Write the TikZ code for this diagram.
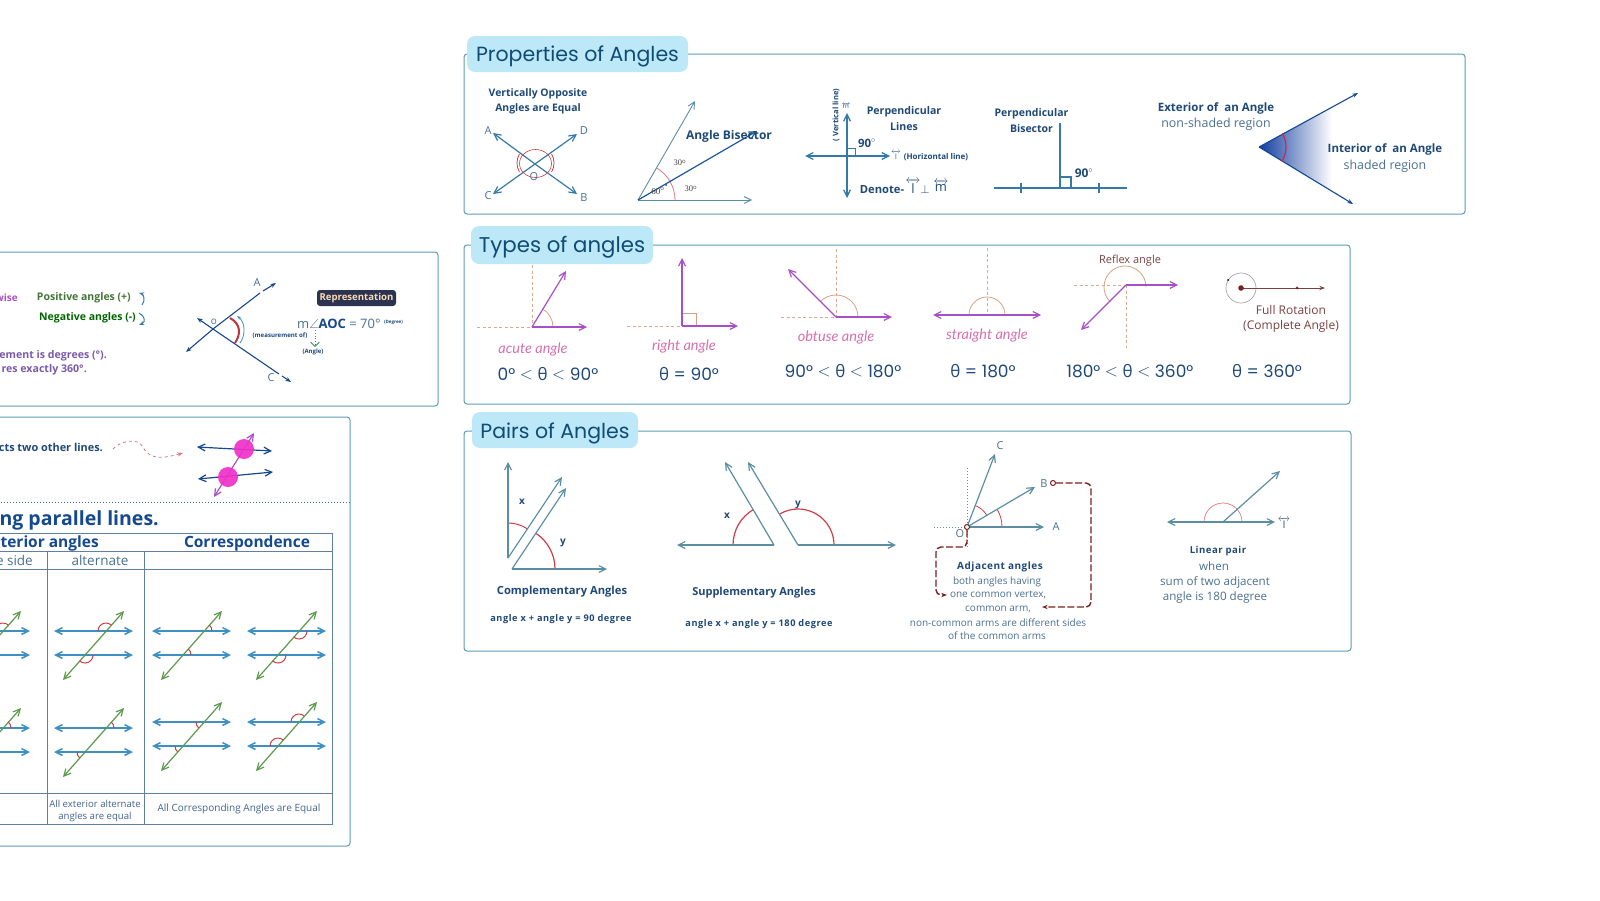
\documentclass[tikz,border=0pt]{standalone}
\usepackage{amsmath}
\usepackage{amssymb}
\usepackage{fontspec}
\usetikzlibrary{arrows.meta, positioning, calc}
\setmainfont{Open Sans}
\newfontfamily\titlefont{Poppins}
\newfontfamily\handfont{Lato}
\newfontfamily\numserif{Liberation Serif}
\newcommand{\fs}[1]{\fontsize{#1}{#1}\selectfont}
\newcommand{\thet}{{\fontspec{Open Sans}θ}}
\newcommand{\ltsign}{\raisebox{.5pt}{$<$}}
\definecolor{cPill}{RGB}{189,232,247}
\definecolor{cFrame}{RGB}{92,156,184}
\definecolor{cTitle}{RGB}{15,76,117}
\definecolor{cNavy}{RGB}{30,72,120}
\definecolor{cText}{RGB}{74,111,143}
\definecolor{cLine}{RGB}{61,143,196}
\definecolor{cDeep}{RGB}{20,72,143}
\definecolor{cPur}{RGB}{166,79,200}
\definecolor{cDash}{RGB}{219,167,143}
\definecolor{cArc}{RGB}{216,160,128}
\definecolor{cPink}{RGB}{213,111,174}
\definecolor{cTeal}{RGB}{92,142,163}
\definecolor{cRed}{RGB}{210,60,70}
\definecolor{cMar}{RGB}{122,30,30}
\definecolor{cBrown}{RGB}{122,64,64}
\definecolor{cGreen}{RGB}{91,154,75}
\definecolor{cHot}{RGB}{240,48,200}
\definecolor{cViol}{RGB}{122,90,168}
\definecolor{cDark}{RGB}{43,51,80}
\tikzset{
  panel/.style={draw=cFrame, line width=1pt, rounded corners=3pt},
  pill/.style={fill=cPill, rounded corners=8pt, text=cTitle, inner sep=0pt, font=\titlefont\fs{20.5}},
  lab/.style={inner sep=0pt, yshift=-1pt, align=center, text=cNavy, font=\bfseries\fs{10.5}},
  sublab/.style={inner sep=0pt, yshift=-1pt, align=center, text=cText, font=\fs{11.6}},
  adjlab/.style={sublab, font=\fs{10}},
  eqn/.style={inner sep=0pt, text=cNavy, font=\titlefont\fs{17}},
  hand/.style={inner sep=0pt, text=cPink, font=\handfont\itshape\fs{14.5}},
  letter/.style={inner sep=0pt, text=cNavy!80, font=\fs{11}},
  ar/.style={-{Straight Barb[length=2.4mm,width=2.4mm]}, line width=1.2pt},
  dar/.style={{Straight Barb[length=2.4mm,width=2.4mm]}-{Straight Barb[length=2.4mm,width=2.4mm]}, line width=1.2pt},
  ang/.style={draw=cRed, line width=.8pt},
  soft/.style={draw=cArc, line width=.8pt},
  dsh/.style={draw=cDash, line width=.9pt, dash pattern=on 3pt off 2.5pt},
  ptc/.style={circle, draw=cMar, fill=white, line width=1pt, minimum size=5pt, inner sep=0pt},
  mar/.style={draw=cMar, line width=1.4pt, dash pattern=on 7pt off 2.5pt, rounded corners=5pt},
  tbl/.style={draw=cNavy!70, line width=.8pt}
}
\begin{document}
\begin{tikzpicture}[x=1pt, y=-1pt]
  \path[use as bounding box, clip] (0,0) rectangle (1600,900);

  % frames
  \draw[panel] (-20,252) rectangle (438,406);
  \draw[panel] (-20,417) rectangle (350,846);
  \draw[panel] (464,54) rectangle (1465,214);
  \draw[panel] (464,245) rectangle (1350,404);
  \draw[panel] (464,431) rectangle (1351,651);
  \node[pill, minimum width=221pt, minimum height=36pt] (tprop) at (577.5,54) {\raisebox{-2.5pt}[\height][\depth]{Properties of Angles}};
  \node[pill, minimum width=182pt, minimum height=38pt, font=\titlefont\fs{21.3}] (ttype) at (562,245) {\raisebox{-2.5pt}[\height][\depth]{Types of angles}};
  \node[pill, minimum width=166pt, minimum height=36pt] (tpair) at (555,430) {\raisebox{-3.5pt}[\height][\depth]{Pairs of Angles}};

  % vertically opposite
  \node[lab, font=\bfseries\fs{10.4}] (vop) at (538,100.5) {Vertically Opposite\\[5pt]Angles are Equal};
  \draw[ar, cLine!85!black] (535,164) -- (493,133);
  \draw[ar, cLine!85!black] (535,164) -- (577,194);
  \draw[ar, cLine!85!black] (535,164) -- (493,194);
  \draw[ar, cLine!85!black] (535,164) -- (577,134);
  \draw[ang, line width=.6pt] (535.5,163.5) ellipse[x radius=16pt, y radius=14pt];
  \draw[ang] (535,163) ++(150:18pt) arc[start angle=150, end angle=210, radius=18pt];
  \draw[ang] (536,163) ++(-30:18pt) arc[start angle=-30, end angle=30, radius=18pt];
  \node[letter] (la) at (488,131) {A};
  \node[letter] (ld) at (584,131) {D};
  \node[letter] (lc) at (488,196) {C};
  \node[letter] (lb) at (584,198) {B};
  \node[letter] (lo) at (534,177) {O};

  % angle bisector
  \coordinate (bis) at (638,200);
  \draw[soft, draw=cRed!70] (bis) ++(37pt,0) arc[start angle=0, end angle=60, radius=37pt];
  \draw[ar, cTeal, line width=.9pt] (bis) -- (695,101);
  \draw[ar, cTeal, line width=.9pt] (bis) -- (752,200);
  \draw[ar, cDeep!80!cLine] (bis) -- (757,131);
  \fill[cNavy] (666,185) circle (1pt);
  \node[lab, font=\bfseries\fs{12}] (tbis) at (729,135) {Angle Bisector};
  \node[inner sep=0pt, text=black!75, font=\numserif\fs{8.5}] (a30a) at (680,163) {30$^{\mathrm{o}}$};
  \node[inner sep=0pt, text=black!75, font=\numserif\fs{8.5}] (a30b) at (691,189) {30$^{\mathrm{o}}$};
  \node[inner sep=0pt, text=black!75, font=\numserif\fs{9}] (a60) at (658,191) {60$^{\mathrm{o}}$};

  % perpendicular lines
  \draw[dar, cLine!85!black, line width=1.3pt] (805,156) -- (890,156);
  \draw[dar, cLine!85!black, line width=1.3pt] (847,113) -- (847,198);
  \draw[cLine!85!black] (847,148) -| (855,156);
  \node[inner sep=0pt, text=cNavy, font=\bfseries\fs{11.5}] (p90) at (867,143) {90$^{\circ}$};
  \node[inner sep=0pt, rotate=90, text=cNavy, font=\bfseries\fs{7.6}] (pv) at (836,115) {( Vertical line)};
  \node[inner sep=0pt, text=cNavy, font=\fs{6.5}] (pm) at (846,106) {$\overleftrightarrow{\mathrm{m}}$};
  \node[inner sep=0pt, text=cNavy, font=\fs{7}] (pl) at (896,155) {$\overleftrightarrow{\mathrm{l}}$};
  \node[inner sep=0pt, text=cNavy, font=\bfseries\fs{8}] (ph) at (936,157) {(Horizontal line)};
  \node[lab, font=\bfseries\fs{10.6}] (tperp) at (904,117.5) {Perpendicular\\[5pt]Lines};
  \node[lab, font=\bfseries\fs{11.2}] (den) at (882,189) {Denote-};
  \node[inner sep=0pt, text=cNavy, font=\fs{13}] (dl) at (913,186) {$\overleftrightarrow{\mathrm{l}}$};
  \node[inner sep=0pt, text=cNavy, font=\fs{13}] (dt) at (925,189) {$\perp$};
  \node[inner sep=0pt, text=cNavy, font=\fs{13}] (dm) at (941,186) {$\overleftrightarrow{\mathrm{m}}$};

  % perpendicular bisector
  \node[lab] (tpb) at (1031.5,119.5) {Perpendicular\\[5pt]Bisector};
  \draw[cLine!85!black, line width=1.1pt] (994,188) -- (1127,188);
  \draw[cLine!85!black, line width=1.1pt] (1060,123) -- (1060,188);
  \draw[cLine!85!black, line width=1.1pt] (1060,177) -| (1071,188);
  \draw[cLine!85!black, line width=1.1pt] (1021,183) -- (1021,193);
  \draw[cLine!85!black, line width=1.1pt] (1099,183) -- (1099,193);
  \node[inner sep=0pt, text=cNavy, font=\bfseries\fs{12}] (b90) at (1084,173) {90$^{\circ}$};

  % interior and exterior
  \coordinate (ext) at (1259,147);
  \shade[left color=cDeep!85!blue, middle color=cDeep!35!white, right color=white] (ext) -- (1332,107) -- (1332,191) -- cycle;
  \draw[-{Stealth[length=2mm]}, cDeep, line width=1.1pt] (ext) -- (1358,93);
  \draw[-{Stealth[length=2mm]}, cDeep, line width=1.1pt] (ext) -- (1353,204);
  \draw[draw=cRed!70!purple, line width=1.2pt] (ext) ++(-32:27pt) arc[start angle=-32, end angle=30, radius=27pt];
  \node[lab, font=\bfseries\fs{11.5}] (text1) at (1216,107) {Exterior of\ \ an Angle};
  \node[sublab, font=\fs{12.4}] (text2) at (1216,123.5) {non-shaded region};
  \node[lab, font=\bfseries\fs{11.5}] (tint1) at (1385,148.5) {Interior of\ \ an Angle};
  \node[sublab, font=\fs{12.4}] (tint2) at (1385,165.5) {shaded region};

  % types of angles
  \draw[dsh] (477,327) -- (532,327);
  \draw[dsh] (532,265) -- (532,327);
  \draw[soft] (553,327) arc[start angle=0, end angle=60, radius=21pt];
  \draw[ar, cPur] (532,327) -- (587,327);
  \draw[ar, cPur] (532,327) -- (566,271);
  \node[hand] (hac) at (533,349) {acute angle};
  \node[eqn] (eac) at (548,374) {0° \ltsign{} \thet{} \ltsign{} 90°};

  \draw[dsh] (627,326) -- (682,326);
  \draw[soft] (682,313) -| (696,326);
  \draw[ar, cPur] (682,326) -- (738,326);
  \draw[ar, cPur] (682,326) -- (682,258);
  \node[hand] (hri) at (684,346) {right angle};
  \node[eqn] (eri) at (689,374) {\thet{} = 90°};

  \draw[dsh] (781,317) -- (836,317);
  \draw[dsh] (836,249) -- (836,317);
  \draw[soft] (858,317) arc[start angle=0, end angle=135, radius=22pt];
  \draw[ar, cPur] (836,317) -- (892,317);
  \draw[ar, cPur] (836,317) -- (788,269);
  \node[hand] (hob) at (836,337) {obtuse angle};
  \node[eqn] (eob) at (843,371) {90° \ltsign{} \thet{} \ltsign{} 180°};

  \draw[dsh] (987,248) -- (987,315);
  \draw[soft] (1005,315) arc[start angle=0, end angle=180, radius=18pt];
  \draw[dar, cPur] (933,315) -- (1041,315);
  \node[hand] (hst) at (987,335) {straight angle};
  \node[eqn] (est) at (983,371) {\thet{} = 180°};

  \draw[dsh] (1074,285) -- (1126,285);
  \draw[dsh] (1126,285) -- (1126,348);
  \draw[soft] (1146,287) arc[start angle=0, end angle=225, radius=21pt];
  \draw[ar, cPur] (1126,285) -- (1178,285);
  \draw[ar, cPur] (1126,285) -- (1081,330);
  \node[inner sep=0pt, text=cBrown, font=\fs{11}] (tref) at (1130,260.5) {Reflex angle};
  \node[eqn] (ere) at (1130,371) {180° \ltsign{} \thet{} \ltsign{} 360°};

  \draw[black!35, line width=.7pt] (1241,288) circle (15pt);
  \fill[black] (1228,280) circle (1pt);
  \draw[-{Stealth[length=2mm]}, cBrown, line width=1pt] (1241,288) -- (1325,288);
  \fill[cMar] (1241,288) circle (2.8pt);
  \fill[cMar] (1297,288) circle (1.5pt);
  \node[inner sep=0pt, align=center, text=cBrown, font=\fs{12}] (tfull) at (1291,319) {Full Rotation\\[3pt](Complete Angle)};
  \node[eqn] (efu) at (1267,371) {\thet{} = 360°};

  % complementary
  \draw[ang, line width=1pt] (508,523) arc[start angle=90, end angle=56, radius=35pt];
  \draw[ang, line width=1.2pt] (555,569) arc[start angle=0, end angle=56, radius=43pt];
  \draw[ar, cTeal] (508,558) -- (508,462);
  \draw[ar, cTeal] (508,558) -- (562,477);
  \draw[ar, cTeal] (512,569) -- (566,488);
  \draw[ar, cTeal] (512,569) -- (607,569);
  \node[lab, font=\bfseries\fs{10}] (cx) at (522,501) {x};
  \node[lab, font=\bfseries\fs{10}] (cy) at (563,542) {y};
  \node[lab, font=\bfseries\fs{11.2}] (tcomp) at (562,591) {Complementary Angles};
  \node[lab, font=\bfseries\fs{9.2}] (ecomp) at (561,618) {\addfontfeatures{LetterSpace=6}angle x + angle y = 90 degree};

  % supplementary
  \draw[ang, line width=1.2pt] (733,545) arc[start angle=180, end angle=120, radius=41pt];
  \draw[ang, line width=1.2pt] (834,545) arc[start angle=0, end angle=120, radius=36pt];
  \draw[ar, cTeal] (774,545) -- (677,545);
  \draw[ar, cTeal] (774,545) -- (725,462);
  \draw[ar, cTeal] (798,545) -- (896,545);
  \draw[ar, cTeal] (798,545) -- (748,462);
  \node[lab, font=\bfseries\fs{10}] (sx) at (727,515) {x};
  \node[lab, font=\bfseries\fs{10}] (sy) at (798,504) {y};
  \node[lab, font=\bfseries\fs{11}] (tsupp) at (754,592) {Supplementary Angles};
  \node[lab, font=\bfseries\fs{9.2}] (esupp) at (759,623) {\addfontfeatures{LetterSpace=6}angle x + angle y = 180 degree};

  % adjacent
  \coordinate (vtx) at (967,527);
  \coordinate (inb) at (1042,607);
  \coordinate (ino) at (947,595);
  \draw[cTeal, line width=1pt, dotted] (967,468) -- (967,549);
  \draw[cTeal, line width=1pt, dotted] (934,527) -- (vtx);
  \draw[ang] (vtx) ++(0:35pt) arc[start angle=0, end angle=30, radius=35pt];
  \draw[ang] (vtx) ++(32:23pt) arc[start angle=32, end angle=70, radius=23pt];
  \draw[ar, cTeal] (vtx) -- (1044,527);
  \draw[ar, cTeal] (vtx) -- (1035,487);
  \draw[ar, cTeal] (vtx) -- (995,454);
  \node[ptc] (pto) at (vtx) {};
  \node[ptc] (ptb) at (1053,483) {};
  \node[letter] (adc) at (1000,446) {C};
  \node[letter] (adb) at (1044,484) {B};
  \node[letter] (ada) at (1056,527) {A};
  \node[letter] (ado) at (960,534) {O};
  \node[lab, font=\bfseries\fs{10}] (tadj) at (1000,566) {\addfontfeatures{LetterSpace=5}Adjacent angles};
  \node[adjlab] (adj1) at (997,581) {both angles having};
  \node[adjlab] (adj2) at (998,594) {one common vertex,};
  \node[adjlab] (adj3) at (998,608) {common arm,};
  \node[adjlab] (adj4) at (998,622) {non-common arms are different sides};
  \node[adjlab] (adj5) at (997,635) {of the common arms};
  \draw[mar, -{Stealth[length=2mm]}] (ptb) -- (1091,483) -- (1091,607) -- (inb);
  \draw[mar, -{Stealth[length=2mm]}] (pto) -- (967,547) -- (936,547) -- (936,595) -- (ino);

  % linear pair
  \draw[draw=cRed!70, line width=.7pt] (1242,522) arc[start angle=0, end angle=180, radius=19pt];
  \draw[dar, cTeal] (1167,522) -- (1275,522);
  \draw[ar, cTeal] (1223,522) -- (1280,471);
  \node[inner sep=0pt, text=cNavy, font=\fs{10}] (ll) at (1284,523) {$\overleftrightarrow{\mathrm{l}}$};
  \node[lab, font=\bfseries\fs{9.6}] (tlin) at (1218,550) {\addfontfeatures{LetterSpace=5}Linear pair};
  \node[sublab] (lin1) at (1214,565) {when};
  \node[sublab] (lin2) at (1215,581) {sum of two adjacent};
  \node[sublab] (lin3) at (1215,596) {angle is 180 degree};

  % left panel, representation
  \node[lab, anchor=east, text=cPur, font=\bfseries\fs{10}] (rcw) at (18,297) {wise};
  \node[lab, anchor=east, text=cGreen!75!black, font=\bfseries\fs{10.5}] (rpos) at (131,297) {Positive angles (+)};
  \node[lab, anchor=east, text=green!40!black, font=\bfseries\fs{10.5}] (rneg) at (136,317) {Negative angles (-)};
  \draw[-{Stealth[length=1.8mm]}, cLine!85!black, line width=1pt] (142,305) .. controls (146,300) and (143,294) .. (139,293);
  \draw[-{Stealth[length=1.8mm]}, cLine!85!black, line width=1pt] (139,313) .. controls (145,316) and (146,322) .. (139,325);
  \node[lab, anchor=east, text=cViol, font=\bfseries\fs{10.6}] (rdeg) at (107,355) {ement is degrees (°).};
  \node[lab, anchor=east, text=cViol, font=\bfseries\fs{10.6}] (rful) at (87,369) {res exactly 360°.};
  \draw[-{Stealth[length=2mm]}, cDeep, line width=1.1pt] (213,329) -- (186,352);
  \draw[-{Stealth[length=2mm]}, cDeep, line width=1.1pt] (213,329) -- (197,318);
  \draw[cDeep, line width=1.1pt] (213,329) -- (260,293);
  \draw[-{Stealth[length=2mm]}, cDeep, line width=1.1pt] (263,291) -- (276,283);
  \draw[cDeep, line width=1.1pt] (213,329) -- (279,374);
  \draw[-{Stealth[length=2mm]}, cDeep, line width=1.1pt] (282,376) -- (291,382);
  \draw[cRed!90!black, line width=2pt] (230,318) .. controls (241,324) and (241,334) .. (235,343);
  \draw[-{Stealth[length=1.5mm]}, cLine, line width=.8pt] (240,343) .. controls (246,335) and (245,322) .. (237,316);
  \node[letter, font=\fs{10}] (ro) at (214,322) {o};
  \node[letter] (ra) at (257,283) {A};
  \node[letter] (rc) at (271,378) {C};
  \node[fill=cDark, rounded corners=3pt, minimum width=79pt, minimum height=16pt, inner sep=0pt, text=cPill!20!orange!35!white, font=\bfseries\fs{9.6}] (trep) at (356.5,298) {Representation};
  \node[inner sep=0pt, anchor=west, text=cText, font=\fs{13}] (rmeas) at (297,324) {m$\angle$\textcolor{cDeep}{\textbf{AOC}} = 70° \raisebox{5pt}{\textcolor{cNavy}{\bfseries\fs{4.5}(Degree)}}};
  \node[inner sep=0pt, text=cNavy, font=\bfseries\fs{6.1}] (rmo) at (280,336) {(measurement of)};
  \node[inner sep=0pt, text=cNavy, font=\bfseries\fs{6}] (ran) at (313,352) {(Angle)};
  \draw[-{Straight Barb[length=1.5mm]}, cGreen!60!teal, line width=.8pt, dotted] (315,330) -- (315,347);

  % left panel, transversal
  \node[lab, anchor=east, font=\bfseries\fs{10.9}] (rcts) at (103,446) {cts two other lines.};
  \draw[cRed!70, line width=.8pt, dashed, -{Stealth[length=2mm]}] (113,449) .. controls (120,441) and (138,437) .. (143,447) .. controls (150,462) and (168,457) .. (183,453);
  \draw[dar, cDeep] (197,447) -- (272,451);
  \draw[dar, cDeep] (198,479) -- (273,472);
  \draw[dar, cPur] (214,497) -- (254,433);
  \fill[cHot, opacity=.92] (244,449) circle (10pt);
  \fill[cHot, opacity=.92] (228,477) circle (10pt);
  \draw[cFrame!70!black, line width=1pt, dotted] (-5,502) -- (350,502);
  \node[inner sep=0pt, anchor=east, text=cDeep, font=\bfseries\fs{19.5}] (rpar) at (159,520) {ng parallel lines.};

  % table
  \draw[tbl] (-5,533) -- (332,533) -- (332,824) -- (-5,824);
  \draw[tbl] (-5,551) -- (332,551);
  \draw[tbl] (-5,569) -- (332,569);
  \draw[tbl] (-5,793) -- (332,793);
  \draw[tbl] (47,551) -- (47,824);
  \draw[tbl] (144,551) -- (144,824);
  \node[inner sep=0pt, anchor=east, text=cDeep, font=\bfseries\fs{15.5}] (hext) at (99,543) {xterior angles};
  \node[inner sep=0pt, text=cDeep, font=\bfseries\fs{15.5}] (hcor) at (247,543) {Correspondence};
  \node[inner sep=0pt, anchor=east, text=cText, font=\fs{13.5}] (hsid) at (33,560) {e side};
  \node[inner sep=0pt, text=cText, font=\fs{13.5}] (halt) at (100,560) {alternate};
  \node[sublab, font=\fs{9.6}, text=cNavy!85] (fext) at (95,810) {All exterior alternate\\[2pt]angles are equal};
  \node[sublab, font=\fs{10}, text=cNavy!85] (fcor) at (239,808) {All Corresponding Angles are Equal};
  \foreach \xo/\yo/\sa/\ea/\sb/\eb in {
      -49/631/48.5/180/48.5/180, -49/728/0/48.5/180/228.5,
      54/631/48.5/180/228.5/360, 54/728/0/48.5/180/228.5,
      152/631/0/48.5/0/48.5, 152/722/180/228.5/180/228.5,
      247/631/228.5/360/228.5/360, 247/722/48.5/180/48.5/180} {
    \begin{scope}[shift={(\xo,\yo)}]
      \draw[dar, cLine, line width=1.5pt] (0,0) -- (79,0);
      \draw[dar, cLine, line width=1.5pt] (0,24) -- (79,24);
      \draw[dar, cGreen] (9,49) -- (70,-20);
      \draw[ang, line width=1pt] (52,0) ++(\sa:8pt) arc[start angle=\sa, end angle=\ea, radius=8pt];
      \draw[ang, line width=1pt] (31,24) ++(\sb:8pt) arc[start angle=\sb, end angle=\eb, radius=8pt];
    \end{scope}
  }
\end{tikzpicture}
\end{document}
